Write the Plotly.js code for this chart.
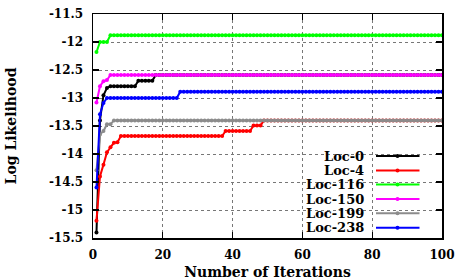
<!DOCTYPE html>
<html>
<head>
<meta charset="utf-8">
<script src="https://cdn.plot.ly/plotly-3.0.1.min.js"></script>
<style>html,body{margin:0;padding:0;background:#fff;}#chart{width:456px;height:280px;}</style>
</head>
<body>
<div id="chart"></div>
<script>
// Iteration index 1..100
const iterations = Array.from({length: 100}, (_, i) => i + 1);

const seriesNames = ["Loc-0", "Loc-4", "Loc-116", "Loc-150", "Loc-199", "Loc-238"];
const seriesColors = ["#000000", "#ff0000", "#00ff00", "#ff00ff", "#8c8c8c", "#0000ff"];

const loc0 = [
  -15.40, -13.40, -12.95, -12.82, -12.79, -12.79, -12.79, -12.79, -12.79, -12.79,
  -12.79, -12.79, -12.69, -12.69, -12.69, -12.69, -12.69, -12.59, -12.59, -12.59,
  -12.59, -12.59, -12.59, -12.59, -12.59, -12.59, -12.59, -12.59, -12.59, -12.59,
  -12.59, -12.59, -12.59, -12.59, -12.59, -12.59, -12.59, -12.59, -12.59, -12.59,
  -12.59, -12.59, -12.59, -12.59, -12.59, -12.59, -12.59, -12.59, -12.59, -12.59,
  -12.59, -12.59, -12.59, -12.59, -12.59, -12.59, -12.59, -12.59, -12.59, -12.59,
  -12.59, -12.59, -12.59, -12.59, -12.59, -12.59, -12.59, -12.59, -12.59, -12.59,
  -12.59, -12.59, -12.59, -12.59, -12.59, -12.59, -12.59, -12.59, -12.59, -12.59,
  -12.59, -12.59, -12.59, -12.59, -12.59, -12.59, -12.59, -12.59, -12.59, -12.59,
  -12.59, -12.59, -12.59, -12.59, -12.59, -12.59, -12.59, -12.59, -12.59, -12.59
];
const loc4 = [
  -15.19, -14.40, -14.19, -13.97, -13.88, -13.80, -13.79, -13.68, -13.68, -13.68,
  -13.68, -13.68, -13.68, -13.68, -13.68, -13.68, -13.68, -13.68, -13.68, -13.68,
  -13.68, -13.68, -13.68, -13.68, -13.68, -13.68, -13.68, -13.68, -13.68, -13.68,
  -13.68, -13.68, -13.68, -13.68, -13.68, -13.68, -13.68, -13.59, -13.59, -13.59,
  -13.59, -13.59, -13.59, -13.59, -13.59, -13.49, -13.49, -13.49, -13.40, -13.40,
  -13.40, -13.40, -13.40, -13.40, -13.40, -13.40, -13.40, -13.40, -13.40, -13.40,
  -13.40, -13.40, -13.40, -13.40, -13.40, -13.40, -13.40, -13.40, -13.40, -13.40,
  -13.40, -13.40, -13.40, -13.40, -13.40, -13.40, -13.40, -13.40, -13.40, -13.40,
  -13.40, -13.40, -13.40, -13.40, -13.40, -13.40, -13.40, -13.40, -13.40, -13.40,
  -13.40, -13.40, -13.40, -13.40, -13.40, -13.40, -13.40, -13.40, -13.40, -13.40
];
const loc116 = [
  -12.18, -12.00, -12.00, -12.00, -11.88, -11.88, -11.88, -11.88, -11.88, -11.88,
  -11.88, -11.88, -11.88, -11.88, -11.88, -11.88, -11.88, -11.88, -11.88, -11.88,
  -11.88, -11.88, -11.88, -11.88, -11.88, -11.88, -11.88, -11.88, -11.88, -11.88,
  -11.88, -11.88, -11.88, -11.88, -11.88, -11.88, -11.88, -11.88, -11.88, -11.88,
  -11.88, -11.88, -11.88, -11.88, -11.88, -11.88, -11.88, -11.88, -11.88, -11.88,
  -11.88, -11.88, -11.88, -11.88, -11.88, -11.88, -11.88, -11.88, -11.88, -11.88,
  -11.88, -11.88, -11.88, -11.88, -11.88, -11.88, -11.88, -11.88, -11.88, -11.88,
  -11.88, -11.88, -11.88, -11.88, -11.88, -11.88, -11.88, -11.88, -11.88, -11.88,
  -11.88, -11.88, -11.88, -11.88, -11.88, -11.88, -11.88, -11.88, -11.88, -11.88,
  -11.88, -11.88, -11.88, -11.88, -11.88, -11.88, -11.88, -11.88, -11.88, -11.88
];
const loc150 = [
  -13.08, -12.79, -12.70, -12.68, -12.59, -12.59, -12.59, -12.59, -12.59, -12.59,
  -12.59, -12.59, -12.59, -12.59, -12.59, -12.59, -12.59, -12.59, -12.59, -12.59,
  -12.59, -12.59, -12.59, -12.59, -12.59, -12.59, -12.59, -12.59, -12.59, -12.59,
  -12.59, -12.59, -12.59, -12.59, -12.59, -12.59, -12.59, -12.59, -12.59, -12.59,
  -12.59, -12.59, -12.59, -12.59, -12.59, -12.59, -12.59, -12.59, -12.59, -12.59,
  -12.59, -12.59, -12.59, -12.59, -12.59, -12.59, -12.59, -12.59, -12.59, -12.59,
  -12.59, -12.59, -12.59, -12.59, -12.59, -12.59, -12.59, -12.59, -12.59, -12.59,
  -12.59, -12.59, -12.59, -12.59, -12.59, -12.59, -12.59, -12.59, -12.59, -12.59,
  -12.59, -12.59, -12.59, -12.59, -12.59, -12.59, -12.59, -12.59, -12.59, -12.59,
  -12.59, -12.59, -12.59, -12.59, -12.59, -12.59, -12.59, -12.59, -12.59, -12.59
];
const loc199 = [
  -14.29, -13.65, -13.59, -13.47, -13.47, -13.40, -13.40, -13.40, -13.40, -13.40,
  -13.40, -13.40, -13.40, -13.40, -13.40, -13.40, -13.40, -13.40, -13.40, -13.40,
  -13.40, -13.40, -13.40, -13.40, -13.40, -13.40, -13.40, -13.40, -13.40, -13.40,
  -13.40, -13.40, -13.40, -13.40, -13.40, -13.40, -13.40, -13.40, -13.40, -13.40,
  -13.40, -13.40, -13.40, -13.40, -13.40, -13.40, -13.40, -13.40, -13.40, -13.40,
  -13.40, -13.40, -13.40, -13.40, -13.40, -13.40, -13.40, -13.40, -13.40, -13.40,
  -13.40, -13.40, -13.40, -13.40, -13.40, -13.40, -13.40, -13.40, -13.40, -13.40,
  -13.40, -13.40, -13.40, -13.40, -13.40, -13.40, -13.40, -13.40, -13.40, -13.40,
  -13.40, -13.40, -13.40, -13.40, -13.40, -13.40, -13.40, -13.40, -13.40, -13.40,
  -13.40, -13.40, -13.40, -13.40, -13.40, -13.40, -13.40, -13.40, -13.40, -13.40
];
const loc238 = [
  -14.60, -13.29, -13.09, -13.00, -13.00, -13.00, -13.00, -13.00, -13.00, -13.00,
  -13.00, -13.00, -13.00, -13.00, -13.00, -13.00, -13.00, -13.00, -13.00, -13.00,
  -13.00, -13.00, -13.00, -13.00, -12.89, -12.89, -12.89, -12.89, -12.89, -12.89,
  -12.89, -12.89, -12.89, -12.89, -12.89, -12.89, -12.89, -12.89, -12.89, -12.89,
  -12.89, -12.89, -12.89, -12.89, -12.89, -12.89, -12.89, -12.89, -12.89, -12.89,
  -12.89, -12.89, -12.89, -12.89, -12.89, -12.89, -12.89, -12.89, -12.89, -12.89,
  -12.89, -12.89, -12.89, -12.89, -12.89, -12.89, -12.89, -12.89, -12.89, -12.89,
  -12.89, -12.89, -12.89, -12.89, -12.89, -12.89, -12.89, -12.89, -12.89, -12.89,
  -12.89, -12.89, -12.89, -12.89, -12.89, -12.89, -12.89, -12.89, -12.89, -12.89,
  -12.89, -12.89, -12.89, -12.89, -12.89, -12.89, -12.89, -12.89, -12.89, -12.89
];

const xTickVals = [0, 20, 40, 60, 80, 100];
const xTickText = ["0", "20", "40", "60", "80", "100"];
const yTickVals = [-11.5, -12, -12.5, -13, -13.5, -14, -14.5, -15, -15.5];
const yTickText = ["-11.5", "-12", "-12.5", "-13", "-13.5", "-14", "-14.5", "-15", "-15.5"];

const seriesValues = [loc0, loc4, loc116, loc150, loc199, loc238];

const FONT = "DejaVu Serif, Liberation Serif, serif";

const traces = seriesValues.map((vals, i) => ({
  type: "scatter",
  mode: "lines+markers",
  x: iterations,
  y: vals,
  name: seriesNames[i],
  line: {color: seriesColors[i], width: 2},
  marker: {color: seriesColors[i], size: 4, symbol: "circle"},
  showlegend: false,
  cliponaxis: true
}));

// custom legend (text right-aligned, sample on the right), in paper coords
const PL = 93, PR = 442, PT = 14, PB = 238;
const px2x = p => (p - PL) / (PR - PL);
const py2y = p => (PB - p) / (PB - PT);
const legendRowsPx = [156, 170.5, 184.5, 199, 213.3, 227.7];

const shapes = [{
  type: "rect", xref: "paper", yref: "paper", layer: "between",
  x0: px2x(296), x1: px2x(431), y0: py2y(PB), y1: py2y(150),
  fillcolor: "#ffffff", line: {width: 0}
}];
const annotations = [];
seriesNames.forEach((name, i) => {
  const yy = py2y(legendRowsPx[i]);
  annotations.push({
    xref: "paper", yref: "paper", x: px2x(366), y: yy,
    xanchor: "right", yanchor: "middle", showarrow: false,
    text: name, font: {family: FONT, size: 13, weight: "bold", color: "#000"}
  });
  shapes.push({
    type: "line", xref: "paper", yref: "paper", layer: "above",
    x0: px2x(376), x1: px2x(419.5), y0: yy, y1: yy,
    line: {color: seriesColors[i], width: 2}
  });
  shapes.push({
    type: "circle", xref: "paper", yref: "paper", layer: "above",
    x0: px2x(395.5), x1: px2x(399.5), y0: yy - 2 / (PB - PT), y1: yy + 2 / (PB - PT),
    fillcolor: seriesColors[i], line: {width: 0}
  });
});

const axisCommon = {
  showline: true, linecolor: "#000", linewidth: 1.5, mirror: "ticks",
  ticks: "inside", ticklen: 6, tickwidth: 1.2, tickcolor: "#000",
  showgrid: true, gridcolor: "#777", griddash: "dot", gridwidth: 1,
  zeroline: false, fixedrange: true,
  tickfont: {family: FONT, size: 12, weight: "bold", color: "#000"}
};

const layout = {
  width: 456, height: 280,
  margin: {l: PL, r: 456 - PR, t: PT, b: 280 - PB},
  paper_bgcolor: "#fff", plot_bgcolor: "#fff",
  showlegend: false,
  xaxis: Object.assign({}, axisCommon, {
    range: [0, 100], tickmode: "array", tickvals: xTickVals, ticktext: xTickText,
    ticklabelstandoff: 5,
    title: {text: "Number of Iterations", standoff: 15,
            font: {family: FONT, size: 14, weight: "bold", color: "#000"}}
  }),
  yaxis: Object.assign({}, axisCommon, {
    range: [-15.5, -11.5], tickmode: "array", tickvals: yTickVals, ticktext: yTickText,
    ticklabelstandoff: 6,
    title: {text: "Log Likelihood", standoff: 29,
            font: {family: FONT, size: 14, weight: "bold", color: "#000"}}
  }),
  shapes: shapes,
  annotations: annotations
};

Plotly.newPlot("chart", traces, layout, {staticPlot: true, displayModeBar: false});
</script>
</body>
</html>
